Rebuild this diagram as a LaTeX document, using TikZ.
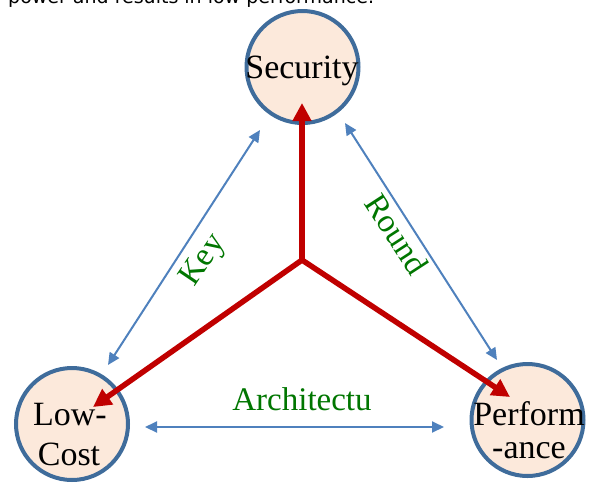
\documentclass[tikz,border=0pt]{standalone}
\usepackage{fontspec}
\setmainfont{Liberation Serif}
\newfontfamily\topfont{DejaVu Sans}
\usetikzlibrary{arrows.meta}
\definecolor{peach}{RGB}{252,233,219}
\definecolor{ringblue}{RGB}{63,108,155}
\definecolor{arrblue}{RGB}{79,129,189}
\definecolor{arrred}{RGB}{192,0,0}
\definecolor{lblgreen}{RGB}{0,118,0}
\tikzset{
  goal/.style={circle, draw=ringblue, fill=peach, line width=4pt, minimum size=112pt, inner sep=0pt},
  goaltext/.style={anchor=base, inner sep=0pt, font=\fontsize{34}{38}\selectfont},
  redarrow/.style={draw=arrred, line width=5.5pt, -{Triangle[length=18pt,width=18pt]}},
  bluearrow/.style={draw=arrblue, line width=2pt, {Triangle[length=12pt,width=11pt]}-{Triangle[length=12pt,width=11pt]}},
  lbl/.style={text=lblgreen, font=\fontsize{33}{36}\selectfont, inner sep=0pt},
}
\begin{document}
\begin{tikzpicture}[x=1pt,y=-1pt]
\clip (0,0) rectangle (589,491);
\useasboundingbox (0,0) rectangle (589,491);
\node[anchor=base west, inner sep=0pt, font=\topfont\fontsize{19}{22}\selectfont] (top) at (8,3) {power and results in low performance.};
\node[goal] (sec) at (302.5,67) {};
\node[goal] (low) at (72,424) {};
\node[goal] (perf) at (527.5,420) {};
\node[goaltext] (sect) at (302,78) {Security};
\node[goaltext] (lowt1) at (70,425) {Low-};
\node[goaltext] (lowt2) at (69,465) {Cost};
\node[goaltext] (perft1) at (529,425) {Perform};
\node[goaltext] (perft2) at (529,458) {-ance};
% red arrows
\coordinate (hub) at (302,260);
\coordinate (tipS) at (302,103);
\coordinate (tipL) at (93,407);
\coordinate (tipP) at (510,397);
\draw[redarrow] (hub) -- (tipS);
\draw[redarrow] (hub) -- (tipL);
\draw[redarrow] (hub) -- (tipP);
% blue arrows
\coordinate (k1) at (260,130);
\coordinate (k2) at (108,365);
\coordinate (r1) at (345,123);
\coordinate (r2) at (497,360);
\coordinate (a1) at (145,427);
\coordinate (a2) at (444,427);
\draw[bluearrow] (k1) -- (k2);
\draw[bluearrow] (r1) -- (r2);
\draw[bluearrow] (a1) -- (a2);
% labels
\node[lbl, rotate=56] (key) at (204,261) {Key};
\node[lbl, rotate=-57] (round) at (397,234) {Round};
\node[lbl, anchor=base] (arch) at (302,410) {Architectu};
\end{tikzpicture}
\end{document}
